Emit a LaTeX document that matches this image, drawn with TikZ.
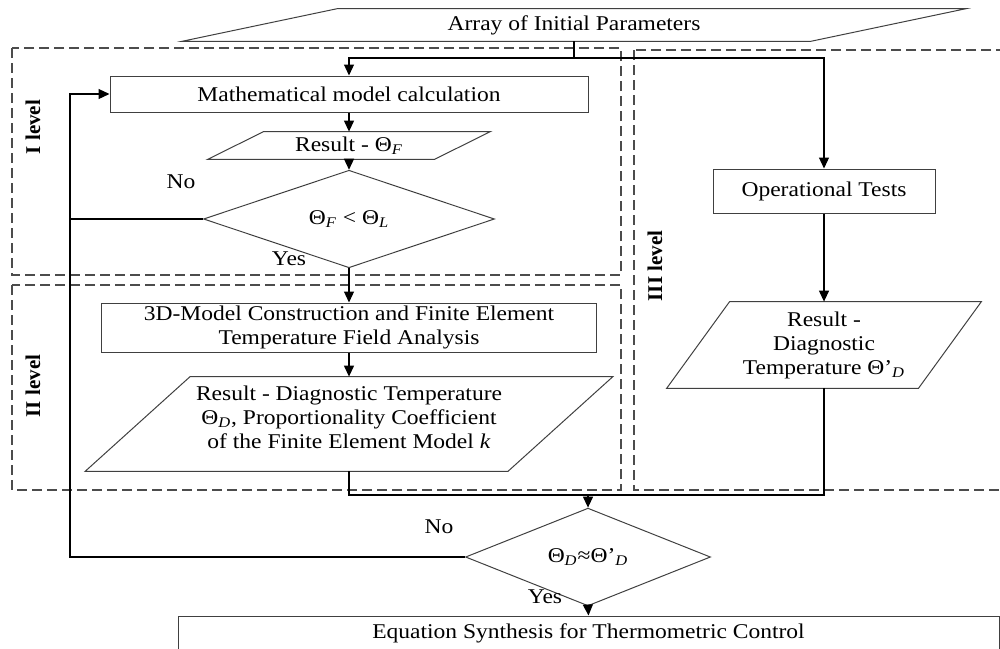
\documentclass[tikz,border=0pt]{standalone}
\usepackage{fontspec}
\setmainfont{Liberation Serif}[FakeStretch=1.12]
\newfontfamily\lvlfont{Liberation Serif}
\usepackage{tikz}
\usetikzlibrary{arrows.meta,positioning,shapes.geometric}

\tikzset{
  box/.style={draw=black!75, line width=0.5pt, rectangle, inner sep=0pt, align=center},
  iobox/.style={rectangle, inner sep=0pt, align=center},
  decision/.style={draw=black!75, line width=0.5pt, diamond, inner sep=0pt, align=center},
  line/.style={line width=0.6pt},
  arr/.style={line width=0.6pt, -{Triangle[length=5.5pt,width=5pt]}},
  levelbox/.style={dash pattern=on 5pt off 2.5pt, line width=0.7pt, draw=black!70},
  lvl/.style={rotate=90, font={\fontsize{10.5}{12}\lvlfont\bfseries}},
}
\newcommand{\slantbox}[2]{%
  \draw[draw=black!75, line width=0.5pt] ([xshift=#2]#1.north west) -- ([xshift=#2]#1.north east)
    -- ([xshift=-#2]#1.south east) -- ([xshift=-#2]#1.south west) -- cycle;}

\begin{document}
\begin{tikzpicture}[x=0.5pt, y=-0.5pt, font=\fontsize{10.5}{12}\selectfont]
    \useasboundingbox (0,0) rectangle (1000,648);
    \draw[levelbox] (12,48) rectangle (621,275);
    \draw[levelbox] (12,285) rectangle (621,490);
    \draw[levelbox] (634,50) rectangle (1010,490);
    \node[lvl] (lvlI) at (33,127) {I level};
    \node[lvl] (lvlII) at (33,386) {II level};
    \node[lvl] (lvlIII) at (655,266) {III level};

    \node[iobox, minimum width=314pt, minimum height=16pt] (init) at (574,25) {Array of Initial Parameters};
    \slantbox{init}{39pt}
    \node[box, minimum width=239pt, minimum height=18pt] (math) at (349,94) {Mathematical model calculation};
    \node[iobox, minimum width=113pt, minimum height=13.5pt] (resF) at (349,145.5) {Result - Θ\textsubscript{\textit{F}}};
    \slantbox{resF}{14pt}
    \node[decision, minimum width=145.5pt, minimum height=36.5pt] (dec1) at (349,219) {Θ\textsubscript{\textit{F}} < Θ\textsubscript{\textit{L}}};
    \node[box, minimum width=247.5pt, minimum height=24.5pt] (fem) at (349,327.5) {3D-Model Construction and Finite Element\\ Temperature Field Analysis};
    \node[iobox, minimum width=211pt, minimum height=47pt] (resD) at (349,424) {Result - Diagnostic Temperature\\ Θ\textsubscript{\textit{D}}, Proportionality Coefficient\\ of the Finite Element Model \textit{k}\\[-5pt]};
    \slantbox{resD}{26.25pt}
    \node[box, minimum width=111pt, minimum height=22pt] (ops) at (824,191) {Operational Tests};
    \node[iobox, minimum width=125.5pt, minimum height=43pt] (resD2) at (824,345) {Result -\\ Diagnostic\\ Temperature Θ’\textsubscript{\textit{D}}};
    \slantbox{resD2}{15.75pt}
    \node[decision, minimum width=122.5pt, minimum height=36pt] (dec2) at (588,557) {Θ\textsubscript{\textit{D}}≈Θ’\textsubscript{\textit{D}}};
    \node[box, minimum width=410.5pt, minimum height=17pt] (synth) at (588.5,633) {Equation Synthesis for Thermometric Control};

    \node (no1) at (181,182) {No};
    \node (yes1) at (289,259) {Yes};
    \node (no2) at (439,527) {No};
    \node (yes2) at (545,597) {Yes};

    \coordinate (split) at (574,58);
    \coordinate (back) at (70,94);
    \coordinate (joinL) at (349,495);
    \coordinate (joinR) at (824,495);
    \draw[line] (init.south) -- (split);
    \draw[arr] (split) -| (math.north);
    \draw[arr] (split) -| (ops.north);
    \draw[arr] (math.south) -- (resF.north);
    \draw[arr] (resF.south) -- (dec1.north);
    \draw[arr] (dec1.west) -| (back) -- (math.west);
    \draw[arr] (dec1.south) -- (fem.north);
    \draw[arr] (fem.south) -- (resD.north);
    \draw[arr] (ops.south) -- (resD2.north);
    \draw[line] (resD.south) -- (joinL) -- (joinR) -- (resD2.south);
    \draw[arr] (dec2.north |- joinL) -- (dec2.north);
    \draw[line] (dec2.west) -| (back);
    \draw[arr] (dec2.south) -- (synth.north);
\end{tikzpicture}
\end{document}
